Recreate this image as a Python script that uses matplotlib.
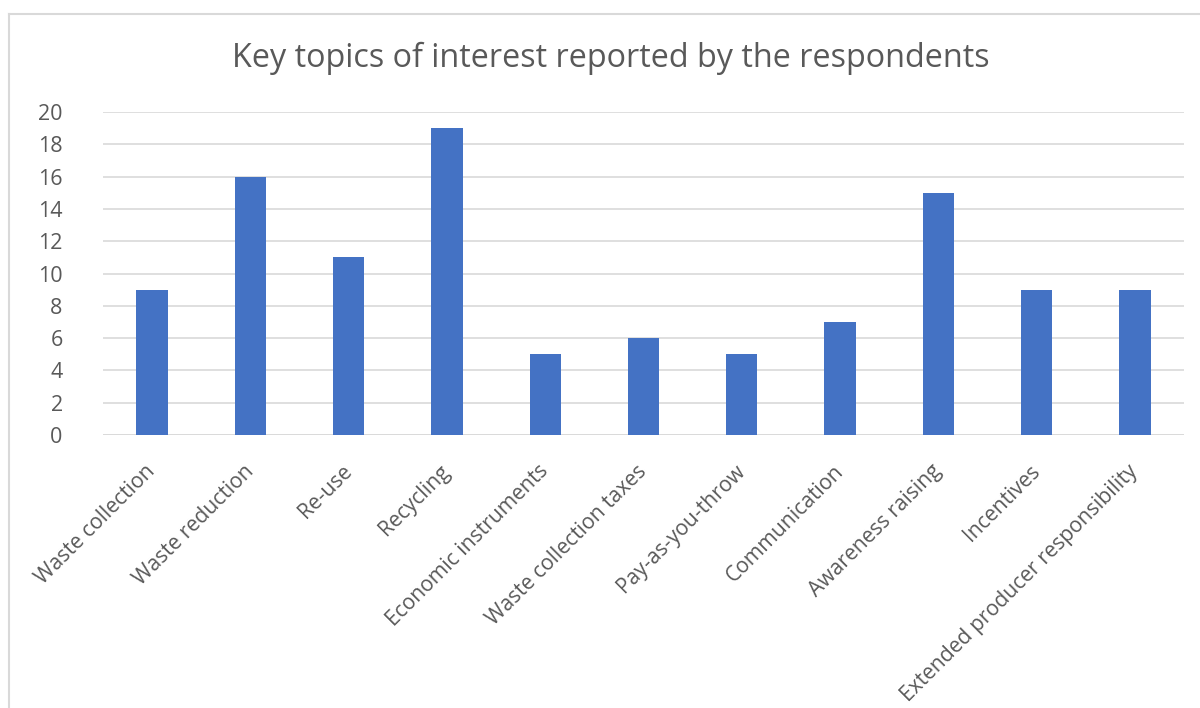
import matplotlib.pyplot as plt
from matplotlib.lines import Line2D

categories = ["Waste collection", "Waste reduction", "Re-use", "Recycling",
              "Economic instruments", "Waste collection taxes", "Pay-as-you-throw",
              "Communication", "Awareness raising", "Incentives",
              "Extended producer responsibility"]
values = [9, 16, 11, 19, 5, 6, 5, 7, 15, 9, 9]
yticks = list(range(0, 21, 2))

plt.rcParams['font.family'] = ['Open Sans', 'DejaVu Sans']
W, H = 1200, 708
fig = plt.figure(figsize=(W / 100, H / 100), dpi=100)
ax = fig.add_axes([103 / W, 1 - 435 / H, (1184 - 103) / W, (435 - 112) / H])

x = list(range(len(categories)))
ax.bar(x, values, width=0.32, color='#4472C4', zorder=3)
ax.set_xlim(-0.5, len(categories) - 0.5)
ax.set_ylim(0, 20)
ax.set_yticks(yticks)
ax.set_yticklabels([str(t) for t in yticks], fontsize=15.5, color='#595959')
ax.yaxis.grid(True, color='#d9d9d9', linewidth=1.2, zorder=0)
ax.set_xticks(x)
ax.set_xticklabels(categories, rotation=45, ha='right', va='center',
                   rotation_mode='anchor', fontsize=15.2, color='#595959')
ax.tick_params(axis='both', length=0)
ax.tick_params(axis='y', pad=29)
ax.tick_params(axis='x', pad=24)
for s in ax.spines.values():
    s.set_visible(False)
ax.axhline(0, color='#d9d9d9', linewidth=1.2, zorder=2)

fig.text(611 / W, 1 - 58 / H, "Key topics of interest reported by the respondents",
         ha='center', va='center', fontsize=23.3, color='#595959')

# chart area border (cropped screenshot)
fig.add_artist(Line2D([9 / W, 9 / W], [0, 1 - 14 / H], transform=fig.transFigure,
                      color='#d9d9d9', linewidth=1.5))
fig.add_artist(Line2D([9 / W, 1], [1 - 14 / H, 1 - 14 / H], transform=fig.transFigure,
                      color='#d9d9d9', linewidth=1.5))

fig.savefig('out.png', dpi=100)
